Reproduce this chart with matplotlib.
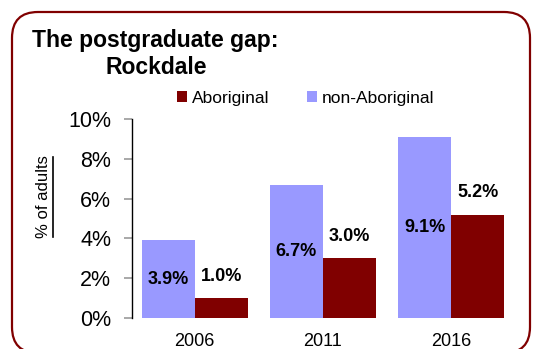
import matplotlib
matplotlib.use("Agg")
import matplotlib.pyplot as plt
from matplotlib.patches import FancyBboxPatch
from matplotlib.lines import Line2D
import numpy as np

plt.rcParams["font.family"] = ["Liberation Sans", "DejaVu Sans"]

# Data
years = ["2006", "2011", "2016"]
non_aboriginal = [3.9, 6.7, 9.1]
aboriginal = [1.0, 3.0, 5.2]
y_ticks = [0, 2, 4, 6, 8, 10]
y_tick_labels = ["0%", "2%", "4%", "6%", "8%", "10%"]

c_non = "#9999FF"
c_abo = "#800000"

W, H = 539, 349
fig = plt.figure(figsize=(W / 100, H / 100), dpi=100)

# Rounded frame around the whole chart (in inches so the corners stay circular)
frame = FancyBboxPatch((0.12, -0.04), 5.18, 3.41,
                       boxstyle="round,pad=0,rounding_size=0.26",
                       transform=fig.dpi_scale_trans, fill=False,
                       edgecolor="#800000", linewidth=1.6)
fig.patches.append(frame)

ax = fig.add_axes([132 / W, 31 / H, 382 / W, 199 / H])

x = np.arange(len(years))
bw = 0.414
b1 = ax.bar(x - bw / 2, non_aboriginal, bw, color=c_non, label="non-Aboriginal")
b2 = ax.bar(x + bw / 2, aboriginal, bw, color=c_abo, label="Aboriginal")

ax.set_xlim(-0.49, 2.49)
ax.set_ylim(0, 10)
ax.set_yticks(y_ticks)
ax.set_yticklabels(y_tick_labels, fontsize=15.5)
ax.set_xticks(x)
ax.set_xticklabels(years, fontsize=13)
ax.tick_params(axis="x", length=0, pad=11)
ax.tick_params(axis="y", direction="out", length=6, width=1.2, color="#999999", pad=9)

for s in ["top", "right", "bottom"]:
    ax.spines[s].set_visible(False)
ax.spines["left"].set_color("black")
ax.spines["left"].set_linewidth(1.0)

# Value labels: inside the light bars, above the dark bars
for xi, v in zip(x, non_aboriginal):
    ax.text(xi - bw / 2, v / 2, f"{v:.1f}%", ha="center", va="center",
            fontsize=13, fontweight="bold")
for xi, v in zip(x, aboriginal):
    ax.annotate(f"{v:.1f}%", (xi + bw / 2, v), xytext=(0, 15.5),
                textcoords="offset points", ha="center", va="center",
                fontsize=13, fontweight="bold")

# Title
fig.text(155 / W, 1 - 41 / H, "The postgraduate gap:", ha="center", va="center",
         fontsize=16.5, fontweight="bold")
fig.text(156 / W, 1 - 67 / H, "Rockdale", ha="center", va="center",
         fontsize=16.5, fontweight="bold")

# Legend
leg = fig.legend(handles=[b2, b1], labels=["Aboriginal", "non-Aboriginal"],
                 loc="center left", bbox_to_anchor=(177 / W, 1 - 98 / H),
                 ncol=2, frameon=False, fontsize=12.5, handlelength=0.6,
                 handleheight=0.6, handletextpad=0.25, columnspacing=2.15,
                 borderpad=0, borderaxespad=0)

# Underlined axis title
ylab = fig.text(44 / W, 1 - 197 / H, "% of adults", rotation=90, ha="center",
                va="center", fontsize=12)
fig.canvas.draw()
bb = ylab.get_window_extent(fig.canvas.get_renderer())
ux = bb.x1 + 1
fig.add_artist(Line2D([ux / W, ux / W], [bb.y0 / H + 0.004, bb.y1 / H - 0.004],
                      transform=fig.transFigure, color="black", linewidth=1.2))

fig.savefig("out.png", dpi=100)
